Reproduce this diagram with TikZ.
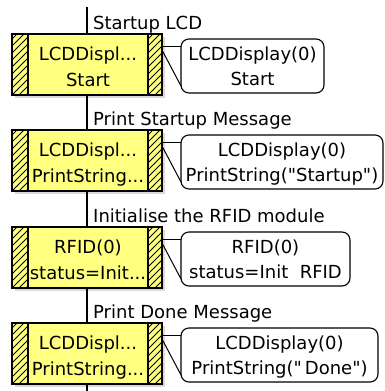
\documentclass[tikz,border=0pt]{standalone}
\usepackage{fontspec}
\setmainfont{DejaVu Sans}[Ligatures=TeXOff]
\usetikzlibrary{calc}
\definecolor{boxyellow}{RGB}{255,255,128}
\tikzset{
  x=1pt, y=-1pt,
  procbox/.style={draw=black, line width=1.3pt, fill=boxyellow, rectangle, inner sep=0pt, outer sep=0pt,
    minimum width=150pt, minimum height=61pt, anchor=north west},
  callbox/.style={draw=black, line width=1.1pt, fill=white, rectangle, rounded corners=8pt, inner sep=0pt,
    outer sep=0pt, minimum height=54pt, anchor=north west},
  txt/.style={inner sep=0pt, anchor=base, font=\fontsize{18}{22}\selectfont},
  lbl/.style={inner sep=0pt, anchor=base west, font=\fontsize{18}{22}\selectfont},
  link/.style={draw=black, line width=1pt},
  vline/.style={draw=black, line width=1.3pt},
  hatchline/.style={line width=0.8pt},
  stripedge/.style={draw=black, line width=1.1pt}
}
\newcommand\stepblock[8]{%
  \fill[black!15] (15,#2+3) rectangle (165,#2+64);
  \node[procbox] (box#1) at (12,#2) {};
  \begin{scope}
    \clip (12,#2) rectangle (28,#2+61);
    \foreach \k in {-63,-56,...,21} \draw[hatchline] ({12+\k},{#2+61}) -- ++(75,-75);
  \end{scope}
  \begin{scope}
    \clip (148,#2) rectangle (162,#2+61);
    \foreach \k in {-63,-56,...,21} \draw[hatchline] ({148+\k},{#2+61}) -- ++(75,-75);
  \end{scope}
  \draw[stripedge] (28,#2) -- (28,#2+61);
  \draw[stripedge] (148,#2) -- (148,#2+61);
  \draw[line width=1.3pt] (12,#2) rectangle (162,#2+61);
  \node[txt] (bt#1a) at (88,#2+26) {#4};
  \node[txt] (bt#1b) at (88,#2+52) {#5};
  \node[callbox, minimum width={(#3-181)*1pt}] (call#1) at (181,#2+5) {};
  \node[txt] (ct#1a) at ({(181+#3)/2},#2+26) {#6};
  \node[txt] (ct#1b) at ({(181+#3)/2},#2+51) {#7};
  \node[lbl] (lab#1) at (93,#2-5) {#8};
  \draw[link] ($(box#1.north east)+(0,12)$) -- ($(call#1.north west)+(0,7)$);
  \draw[link] ($(box#1.north east)+(0,16)$) -- ($(call#1.south west)+(0,-7)$);
}
\begin{document}
\begin{tikzpicture}
  \useasboundingbox (0,0) rectangle (385,391);
  \fill[white] (0,0) rectangle (385,391);
  \stepblock{1}{34}{324}{LCDDispl...}{Start}{LCDDisplay(0)}{Start}{Startup LCD}
  \stepblock{2}{130}{383}{LCDDispl...}{PrintString...}{LCDDisplay(0)}{PrintString("Startup")}{Print Startup Message}
  \stepblock{3}{227}{350}{RFID(0)}{status=Init...}{RFID(0)}{status=Init\ \ RFID}{Initialise the RFID module}
  \stepblock{4}{323}{378}{LCDDispl...}{PrintString...}{LCDDisplay(0)}{PrintString("\,Done")}{Print Done Message}
  \coordinate (top) at (87,7);
  \coordinate (bot) at (87,391);
  \draw[vline] (top) -- (box1.north);
  \draw[vline] (box1.south) -- (box2.north);
  \draw[vline] (box2.south) -- (box3.north);
  \draw[vline] (box3.south) -- (box4.north);
  \draw[vline] (box4.south) -- (bot);
\end{tikzpicture}
\end{document}
